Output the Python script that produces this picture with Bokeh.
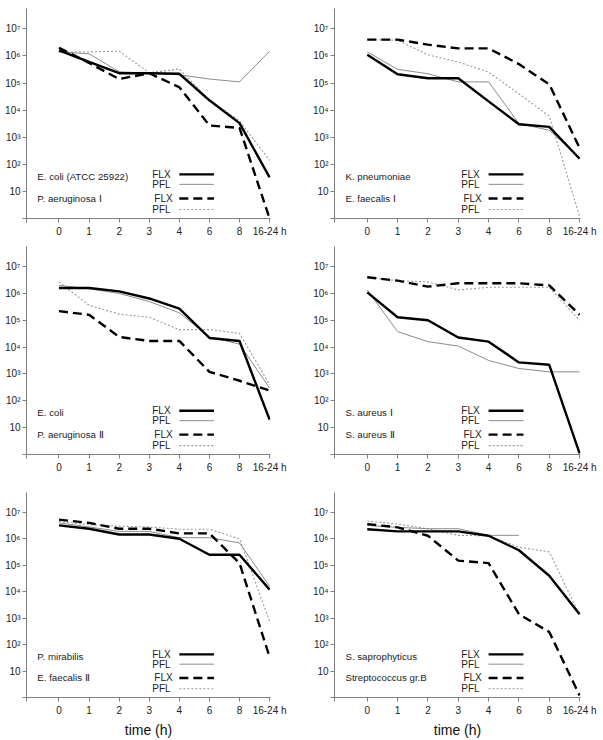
import numpy as np
from bokeh.plotting import figure
from bokeh.layouts import column, row
from bokeh.models import Range1d, FixedTicker
from bokeh.core.properties import value
from bokeh.embed import file_html
from bokeh.resources import INLINE

categories = ["0", "1", "2", "3", "4", "6", "8", "16-24 h"]
y_ticks = [1, 10, 100, 1e3, 1e4, 1e5, 1e6, 1e7]
y_tick_labels = ["", "10", "10\u00b2", "10\u00b3", "10\u2074", "10\u2075", "10\u2076", "10\u2077"]
legend_names = ["FLX", "PFL", "FLX", "PFL"]
x_title = "time (h)"
nan = float("nan")

# Panel 1
org_1a, org_1b = "E. coli (ATCC 25922)", "P. aeruginosa \u2160"
flx_1a = [1.6e6, 6.0e5, 2.3e5, 2.3e5, 2.2e5, 2.3e4, 3.3e3, 33]
pfl_1a = [1.4e6, 1.2e6, 2.6e5, 2.3e5, 2.0e5, 1.4e5, 1.1e5, 1.5e6]
flx_1b = [2.0e6, 5.5e5, 1.4e5, 2.3e5, 7.0e4, 2.7e3, 2.2e3, 1.0]
pfl_1b = [1.4e6, 1.4e6, 1.5e6, 2.4e5, 3.3e5, 2.3e4, 4.0e3, 1.4e2]

# Panel 2
org_2a, org_2b = "K. pneumoniae", "E. faecalis \u2160"
flx_2a = [1.1e6, 2.1e5, 1.5e5, 1.5e5, 2.1e4, 3.0e3, 2.4e3, 1.6e2]
pfl_2a = [1.4e6, 3.2e5, 2.2e5, 1.1e5, 1.1e5, 3.2e3, 1.8e3, 1.8e2]
flx_2b = [4.0e6, 4.0e6, 2.6e6, 1.9e6, 1.9e6, 5.0e5, 9.0e4, 4.0e2]
pfl_2b = [4.0e6, 3.8e6, 1.1e6, 6.0e5, 2.5e5, 4.0e4, 6.0e3, 1.2]

# Panel 3
org_3a, org_3b = "E. coli", "P. aeruginosa \u2161"
flx_3a = [1.6e6, 1.6e6, 1.2e6, 6.5e5, 2.7e5, 2.2e4, 1.7e4, 20]
pfl_3a = [2.0e6, 1.5e6, 1.0e6, 5.0e5, 1.9e5, 2.4e4, 1.3e4, 3.0e2]
flx_3b = [2.2e5, 1.6e5, 2.4e4, 1.7e4, 1.7e4, 1.2e3, 5.6e2, 2.4e2]
pfl_3b = [2.7e6, 3.6e5, 1.7e5, 1.3e5, 4.5e4, 4.5e4, 3.3e4, 4.0e2]

# Panel 4
org_4a, org_4b = "S. aureus \u2160", "S. aureus \u2161"
flx_4a = [1.1e6, 1.3e5, 1.0e5, 2.3e4, 1.6e4, 2.7e3, 2.2e3, 1.1]
pfl_4a = [1.35e6, 3.8e4, 1.6e4, 1.1e4, 3.2e3, 1.6e3, 1.2e3, 1.2e3]
flx_4b = [4.0e6, 3.0e6, 1.8e6, 2.4e6, 2.4e6, 2.4e6, 2.0e6, 1.6e5]
pfl_4b = [4.0e6, 3.0e6, 2.7e6, 1.35e6, 1.7e6, 1.7e6, 1.7e6, 1.0e5]

# Panel 5
org_5a, org_5b = "P. mirabilis", "E. faecalis \u2161"
flx_5a = [3.2e6, 2.4e6, 1.45e6, 1.45e6, 1.0e6, 2.5e5, 2.5e5, 1.2e4]
pfl_5a = [4.0e6, 2.8e6, 1.9e6, 1.9e6, 1.1e6, 1.1e6, 7.0e5, 1.6e4]
flx_5b = [5.3e6, 4.0e6, 2.4e6, 2.4e6, 1.6e6, 1.6e6, 1.2e5, 34]
pfl_5b = [4.5e6, 3.4e6, 3.0e6, 2.8e6, 2.3e6, 2.3e6, 1.0e6, 7.6e2]

# Panel 6
org_6a, org_6b = "S. saprophyticus", "Streptococcus gr.B"
flx_6a = [2.3e6, 1.9e6, 1.9e6, 1.9e6, 1.3e6, 3.7e5, 4.0e4, 1.4e3]
pfl_6a = [3.2e6, 2.7e6, 2.4e6, 2.4e6, 1.35e6, 1.35e6, nan, nan]
flx_6b = [3.6e6, 2.7e6, 1.3e6, 1.5e5, 1.2e5, 1.4e3, 3.0e2, 1.2]
pfl_6b = [4.7e6, 3.6e6, 2.4e6, 1.35e6, 1.3e6, 4.8e5, 3.2e5, 1.3e3]

FONT = value("Liberation Sans")
STYLES = [
    dict(line_color="black", line_width=2.4),
    dict(line_color="#8c8c8c", line_width=1),
    dict(line_color="black", line_width=2.4, line_dash="9 5"),
    dict(line_color="#9a9a9a", line_width=1.1, line_dash="2 2"),
]
X_START = -1.08


def make_panel(org_a, org_b, series, left_col, top_border, frame_h, bottom_border, bottom_row):
    xs = list(range(len(categories)))
    if left_col:
        bl, fw, br = 26, 244, 30
    else:
        bl, fw, br = 34, 246, 23
    p = figure(width=bl + fw + br, height=top_border + frame_h + bottom_border,
               y_axis_type="log",
               x_range=Range1d(X_START, len(categories) - 1 + 0.03),
               y_range=Range1d(1, 10 ** 7.75),
               output_backend="svg", toolbar_location=None,
               min_border_left=bl, min_border_right=br,
               min_border_top=top_border, min_border_bottom=bottom_border)
    p.outline_line_color = None
    p.grid.visible = False
    p.background_fill_color = "white"
    p.border_fill_color = "white"

    # draw order: dotted, thin, dashed, thick
    for idx in [3, 1, 2, 0]:
        p.line(xs, series[idx], **STYLES[idx])

    # organism names
    p.text(x=[-0.72, -0.72], y=[10 ** 1.55, 10 ** 0.74], text=[org_a, org_b],
           text_font=FONT, text_font_size="9.7px", text_color="#222222",
           text_baseline="middle", text_align="left")
    # legend
    ly = [10 ** 1.63, 10 ** 1.26, 10 ** 0.74, 10 ** 0.33]
    lx = [3.1, 3.1, 3.17, 3.1]
    p.text(x=lx, y=ly, text=legend_names, text_font=FONT, text_font_size="10px",
           text_color="#222222", text_baseline="middle", text_align="left")
    for k in range(4):
        p.line([4.0, 5.15], [ly[k], ly[k]], **STYLES[k])

    xa = p.xaxis[0]
    xa.ticker = FixedTicker(ticks=[X_START] + xs)
    overrides = {i: c for i, c in enumerate(categories)}
    overrides[X_START] = ""
    xa.major_label_overrides = overrides
    ya = p.yaxis[0]
    ya.ticker = FixedTicker(ticks=y_ticks)
    ya.major_label_overrides = {t: l for t, l in zip(y_ticks, y_tick_labels)}
    for ax in (xa, ya):
        ax.axis_line_color = "#808080"
        ax.major_tick_line_color = "#808080"
        ax.minor_tick_line_color = None
        ax.major_tick_in = 0
        ax.major_tick_out = 4
        ax.major_label_text_font = "Liberation Sans"
        ax.major_label_text_font_size = "10px"
        ax.major_label_text_color = "#222222"
    xa.major_label_standoff = 3
    ya.major_label_standoff = 2
    if bottom_row:
        xa.axis_label = x_title
        xa.axis_label_text_font = "Liberation Sans"
        xa.axis_label_text_font_size = "14px"
        xa.axis_label_text_font_style = "normal"
        xa.axis_label_text_color = "#111111"
        xa.axis_label_standoff = 3
    return p


p1 = make_panel(org_1a, org_1b, [flx_1a, pfl_1a, flx_1b, pfl_1b], True, 8, 210, 22, False)
p2 = make_panel(org_2a, org_2b, [flx_2a, pfl_2a, flx_2b, pfl_2b], False, 8, 210, 22, False)
p3 = make_panel(org_3a, org_3b, [flx_3a, pfl_3a, flx_3b, pfl_3b], True, 6, 208, 26, False)
p4 = make_panel(org_4a, org_4b, [flx_4a, pfl_4a, flx_4b, pfl_4b], False, 6, 208, 26, False)
p5 = make_panel(org_5a, org_5b, [flx_5a, pfl_5a, flx_5b, pfl_5b], True, 12, 208, 40, True)
p6 = make_panel(org_6a, org_6b, [flx_6a, pfl_6a, flx_6b, pfl_6b], False, 12, 208, 40, True)

layout = column(row(p1, p2), row(p3, p4), row(p5, p6))
open("out.html", "w").write(file_html(layout, INLINE))
